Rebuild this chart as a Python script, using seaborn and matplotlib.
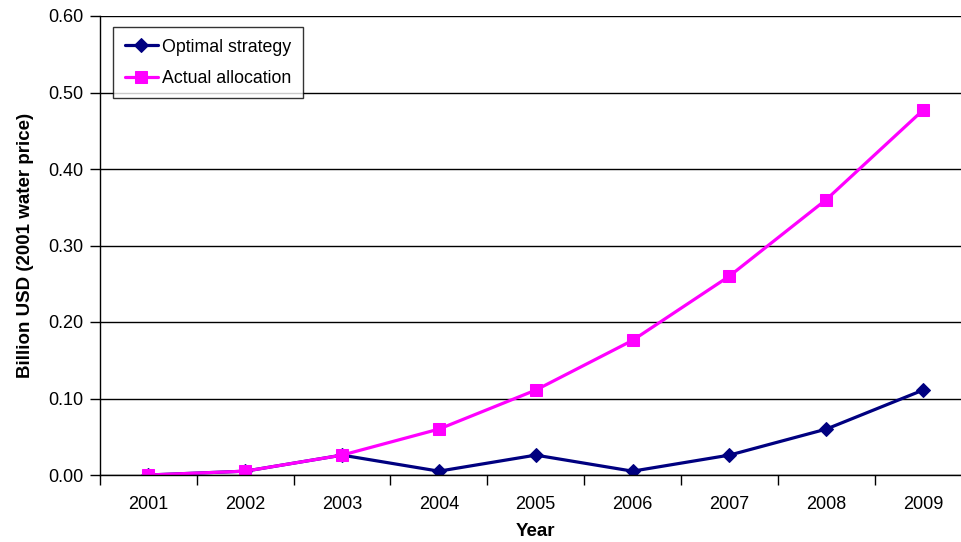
import matplotlib
matplotlib.use("Agg")
import matplotlib.pyplot as plt
import seaborn as sns
import pandas as pd

years = ["2001", "2002", "2003", "2004", "2005", "2006", "2007", "2008", "2009"]
optimal = [0.0, 0.005, 0.026, 0.005, 0.026, 0.005, 0.026, 0.060, 0.111]
actual = [0.0, 0.005, 0.026, 0.060, 0.111, 0.176, 0.260, 0.360, 0.477]
series_names = ["Optimal strategy", "Actual allocation"]
y_ticks = [0.0, 0.1, 0.2, 0.3, 0.4, 0.5, 0.6]

df = pd.DataFrame({
    "Year": years * 2,
    "Value": optimal + actual,
    "Series": [series_names[0]] * len(years) + [series_names[1]] * len(years),
})

sns.set_theme(style="white")
plt.rcParams["font.family"] = ["Liberation Sans", "DejaVu Sans"]
plt.rcParams["text.color"] = "black"
plt.rcParams["axes.labelcolor"] = "black"
plt.rcParams["xtick.color"] = "black"
plt.rcParams["ytick.color"] = "black"

fig = plt.figure(figsize=(9.62, 5.42), dpi=100)
ax = fig.add_axes([100 / 962, 1 - 475 / 542, 871.5 / 962, 459 / 542])

palette = {series_names[0]: "#000080", series_names[1]: "#FF00FF"}
markers = {series_names[0]: "D", series_names[1]: "s"}
sizes = {series_names[0]: 7, series_names[1]: 9}

for name in series_names:
    sub = df[df["Series"] == name]
    sns.lineplot(data=sub, x="Year", y="Value", ax=ax, color=palette[name],
                 marker=markers[name], markersize=sizes[name],
                 markeredgecolor=palette[name], linewidth=2.3, label=name,
                 sort=False)

ax.set_xlim(-0.5, len(years) - 0.5)
ax.set_ylim(0, 0.6)
ax.set_yticks(y_ticks)
ax.set_yticklabels([f"{v:.2f}" for v in y_ticks])
ax.yaxis.grid(True, color="black", linewidth=1.0)
ax.set_axisbelow(True)

# category labels centred, tick marks on the boundaries between categories
ax.set_xticks(range(len(years)))
ax.set_xticklabels(years)
ax.set_xticks([i - 0.5 for i in range(len(years) + 1)], minor=True)
ax.tick_params(axis="x", which="major", length=0, pad=15, labelsize=13)
ax.tick_params(axis="x", which="minor", length=7, width=1, color="black",
               direction="out", bottom=True)
ax.tick_params(axis="y", which="major", length=7, width=1, color="black",
               direction="out", left=True, labelsize=13, pad=5)

for side in ["top", "right"]:
    ax.spines[side].set_visible(False)
for side in ["left", "bottom"]:
    ax.spines[side].set_color("black")
    ax.spines[side].set_linewidth(1.0)

ax.set_xlabel("Year", fontsize=13.5, fontweight="bold", labelpad=7)
ax.set_ylabel("Billion USD (2001 water price)", fontsize=13.5,
              fontweight="bold", labelpad=10)

leg = ax.legend(loc="upper left", bbox_to_anchor=(13 / 871.5, 1 - 11 / 459),
                frameon=True, fancybox=False, fontsize=12.8, handlelength=1.9,
                borderpad=0.65, labelspacing=0.8, handletextpad=0.2,
                borderaxespad=0)
leg.get_frame().set_edgecolor("black")
leg.get_frame().set_linewidth(1.0)

fig.savefig("out.png", dpi=100)
